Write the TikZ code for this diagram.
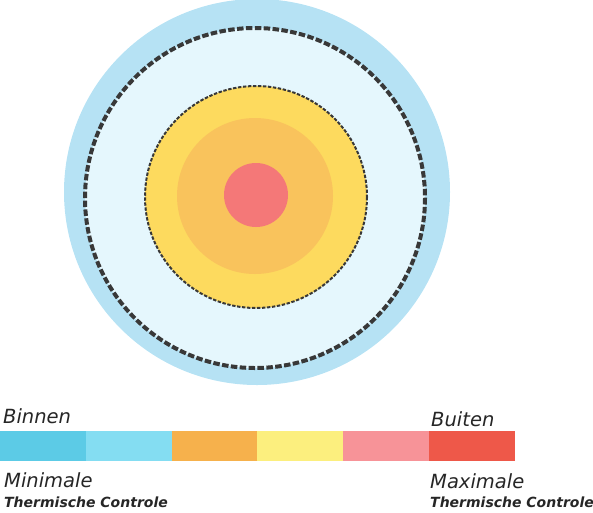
\documentclass[tikz,border=0pt]{standalone}
\usepackage{fontspec}
\setmainfont{DejaVu Sans}
\definecolor{outerblue}{HTML}{B6E2F4}
\definecolor{innerblue}{HTML}{E5F7FD}
\definecolor{ringyellow}{HTML}{FDDA5E}
\definecolor{coreorange}{HTML}{F9C35C}
\definecolor{corered}{HTML}{F47878}
\definecolor{segA}{HTML}{5CCBE6}
\definecolor{segB}{HTML}{84DDF2}
\definecolor{segC}{HTML}{F6B14C}
\definecolor{segD}{HTML}{FCEF7E}
\definecolor{segE}{HTML}{F79398}
\definecolor{segF}{HTML}{EE5849}
\definecolor{txt}{HTML}{262626}
\tikzset{
  seg/.style={minimum width=85.9pt, minimum height=30pt, inner sep=0pt, outer sep=0pt, anchor=north west},
  bigtxt/.style={anchor=base west, inner sep=0pt, text=txt, font=\fontsize{19.5}{21}\selectfont\itshape},
  smalltxt/.style={anchor=base west, inner sep=0pt, text=txt, font=\fontsize{14}{15}\selectfont\bfseries\itshape},
}
\begin{document}
\begin{tikzpicture}[x=1pt,y=-1pt]
\useasboundingbox (0,0) rectangle (593,512);
% circles
\fill[outerblue] (257,192) circle (193);
\fill[innerblue] (255,198) circle (170);
\draw[line width=4pt, color=black!78, dash pattern=on 6.5pt off 2.4pt] (255,198) circle (170);
\fill[ringyellow] (256,197) circle (111);
\draw[line width=2pt, color=black!78, dash pattern=on 3.4pt off 1.6pt] (256,197) circle (111);
\fill[coreorange] (255,196) circle (78);
\fill[corered] (256,195) circle (32);
% legend bar
\node[seg, fill=segA] (s1) at (0,431) {};
\node[seg, fill=segB] (s2) at (85.8,431) {};
\node[seg, fill=segC] (s3) at (171.6,431) {};
\node[seg, fill=segD] (s4) at (257.4,431) {};
\node[seg, fill=segE] (s5) at (343.2,431) {};
\node[seg, fill=segF] (s6) at (429,431) {};
% labels
\node[bigtxt] (binnen) at (3,423) {Binnen};
\node[bigtxt] (buiten) at (431,426) {Buiten};
\node[bigtxt] (minimale) at (4,487) {Minimale};
\node[bigtxt] (maximale) at (430,488) {Maximale};
\node[smalltxt] (tc1) at (4,507) {Thermische Controle};
\node[smalltxt] (tc2) at (430,507) {Thermische Controle};
\end{tikzpicture}
\end{document}
